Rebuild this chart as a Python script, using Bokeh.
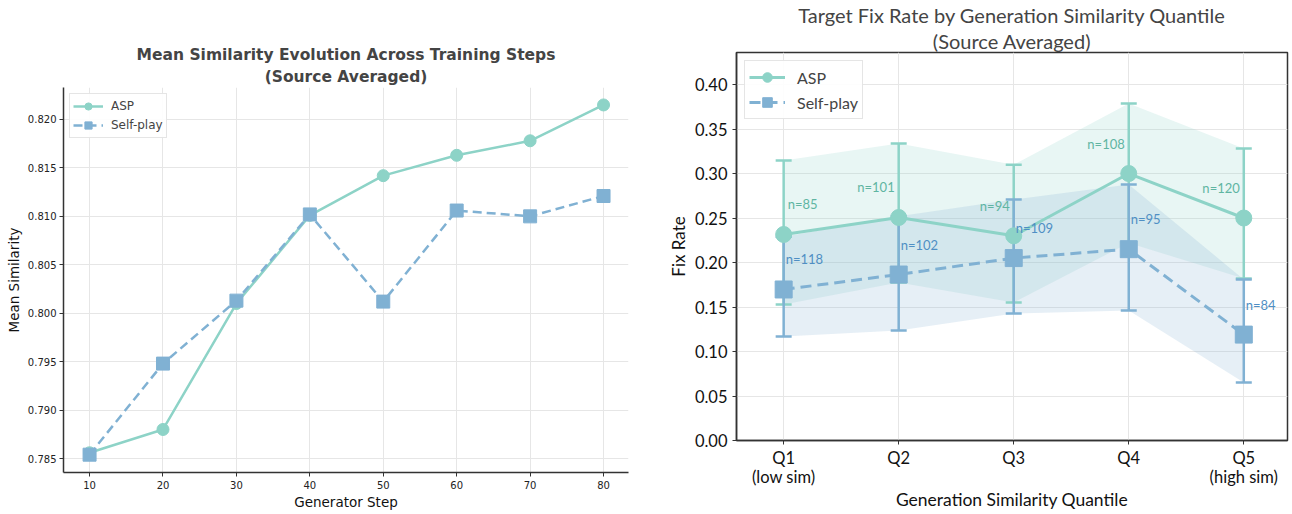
from bokeh.plotting import figure
from bokeh.models import Range1d, FixedTicker, Title, NumeralTickFormatter, ColumnDataSource, LinearAxis
from bokeh.layouts import row, column
from bokeh.core.properties import value
from bokeh.embed import file_html
from bokeh.resources import INLINE

# ---------------- data: left chart ----------------
steps = [10, 20, 30, 40, 50, 60, 70, 80]
asp_sim = [0.7856, 0.7880, 0.8010, 0.8101, 0.8142, 0.8163, 0.8178, 0.8215]
sp_sim = [0.7854, 0.7948, 0.8013, 0.8102, 0.8012, 0.8106, 0.8100, 0.8121]
sim_ticks = [0.785, 0.790, 0.795, 0.800, 0.805, 0.810, 0.815, 0.820]

# ---------------- data: right chart ----------------
quant = [0, 1, 2, 3, 4]
q_labels = ["Q1", "Q2", "Q3", "Q4", "Q5"]
q_sub_labels = ["(low sim)", "", "", "", "(high sim)"]
asp_rate = [0.2315, 0.2506, 0.2300, 0.3000, 0.2500]
asp_lo = [0.1528, 0.1775, 0.1551, 0.2220, 0.1820]
asp_hi = [0.3146, 0.3337, 0.3100, 0.3787, 0.3280]
asp_n = [85, 101, 94, 108, 120]
sp_rate = [0.1697, 0.1865, 0.2050, 0.2150, 0.1190]
sp_lo = [0.1169, 0.1236, 0.1427, 0.1460, 0.0652]
sp_hi = [0.2290, 0.2520, 0.2708, 0.2876, 0.1810]
sp_n = [118, 102, 109, 95, 84]
rate_ticks = [0.00, 0.05, 0.10, 0.15, 0.20, 0.25, 0.30, 0.35, 0.40]

ASP_C = "#8dd3c7"
SP_C = "#80b1d3"
ASP_T = "#5fb5a2"
SP_T = "#4f8fc4"
AXC = "#333333"

# ================= left figure =================
F1 = "DejaVu Sans"
p1 = figure(width=640, height=512, output_backend="svg", toolbar_location=None,
            x_range=Range1d(6.45, 83.4), y_range=Range1d(0.78356, 0.8233),
            min_border_left=63, min_border_right=12, min_border_top=87, min_border_bottom=38)
p1.title.text = "Mean Similarity Evolution Across Training Steps"
p1.title.align = "center"
p1.title.text_font = F1
p1.title.text_font_size = "15.5px"
p1.title.text_font_style = "bold"
p1.title.standoff = 0
p1.add_layout(Title(text="(Source Averaged)", align="center",
                    text_font=F1, text_font_size="15.5px", text_font_style="bold", standoff=4), "above")
p1.outline_line_color = None

p1.xaxis.ticker = FixedTicker(ticks=steps)
p1.yaxis.ticker = FixedTicker(ticks=sim_ticks)
p1.yaxis.formatter = NumeralTickFormatter(format="0.000")
for ax in (p1.xaxis[0], p1.yaxis[0]):
    ax.axis_line_color = AXC
    ax.axis_line_width = 1.5
    ax.major_tick_line_color = AXC
    ax.major_tick_in = 0
    ax.major_tick_out = 4
    ax.minor_tick_line_color = None
    ax.major_label_text_font = F1
    ax.major_label_text_font_size = "10px"
    ax.major_label_text_color = "#222222"
    ax.major_label_standoff = 4
    ax.axis_label_text_font = F1
    ax.axis_label_text_font_size = "13.5px"
    ax.axis_label_text_font_style = "normal"
    ax.axis_label_text_color = "#111111"
p1.yaxis.major_label_standoff = 3
p1.xaxis.axis_label = "Generator Step"
p1.yaxis.axis_label = "Mean Similarity"
p1.xaxis.axis_label_standoff = 2
p1.yaxis.axis_label_standoff = 3
p1.grid.grid_line_color = "#e6e6e6"
p1.grid.grid_line_width = 1

p1.line(steps, asp_sim, color=ASP_C, line_width=2.5, legend_label="ASP")
p1.scatter(steps, asp_sim, marker="circle", size=12, color=ASP_C, legend_label="ASP")
p1.line(steps, sp_sim, color=SP_C, line_width=2.5, line_dash="9 5", legend_label="Self-play")
p1.scatter(steps, sp_sim, marker="square", size=13, color=SP_C, legend_label="Self-play")

lg = p1.legend[0]
lg.location = "top_left"
lg.margin = 6
lg.padding = 3
lg.spacing = 1
lg.border_line_color = "#cccccc"
lg.border_line_width = 1
lg.background_fill_alpha = 0.9
lg.label_text_font = F1
lg.label_text_font_size = "12px"
lg.glyph_width = 30
lg.glyph_height = 18
lg.label_height = 18
lg.label_standoff = 8

# ================= right figure =================
F2 = "Lato"
p2 = figure(width=650, height=512, output_backend="svg", toolbar_location=None,
            x_range=Range1d(-0.41, 4.38), y_range=Range1d(0.0, 0.436),
            min_border_left=96, min_border_right=3, min_border_top=52, min_border_bottom=72)
p2.title.text = "Target Fix Rate by Generation Similarity Quantile"
p2.title.align = "center"
p2.title.text_font = F2
p2.title.text_font_size = "20px"
p2.title.text_font_style = "normal"
p2.title.standoff = 0
p2.add_layout(Title(text="(Source Averaged)", align="center",
                    text_font=F2, text_font_size="20px", text_font_style="normal", standoff=0), "above")
p2.outline_line_color = AXC
p2.outline_line_width = 1.5

p2.xaxis.ticker = FixedTicker(ticks=quant)
p2.xaxis.major_label_overrides = {q: lab for q, lab in zip(quant, q_labels)}
p2.yaxis.ticker = FixedTicker(ticks=rate_ticks)
p2.yaxis.formatter = NumeralTickFormatter(format="0.00")
sub_axis = LinearAxis(ticker=FixedTicker(ticks=quant),
                      major_label_overrides={q: lab for q, lab in zip(quant, q_sub_labels)})
p2.add_layout(sub_axis, "below")
for ax in (p2.xaxis[0], p2.yaxis[0], sub_axis):
    ax.axis_line_color = AXC
    ax.axis_line_width = 1.5
    ax.major_tick_line_color = AXC
    ax.major_tick_in = 0
    ax.major_tick_out = 4
    ax.minor_tick_line_color = None
    ax.major_label_text_font = F2
    ax.major_label_text_font_size = "16.5px"
    ax.major_label_text_color = "#111111"
    ax.major_label_standoff = 3
    ax.axis_label_text_font = F2
    ax.axis_label_text_font_style = "normal"
    ax.axis_label_text_color = "#111111"
p2.yaxis.major_label_standoff = 5
sub_axis.axis_line_color = None
sub_axis.major_tick_line_color = None
sub_axis.major_tick_out = 0
sub_axis.major_label_standoff = -4
sub_axis.axis_label = "Generation Similarity Quantile"
sub_axis.axis_label_text_font_size = "17.5px"
sub_axis.axis_label_standoff = -1
p2.yaxis.axis_label_text_font_size = "17px"
p2.yaxis.axis_label = "Fix Rate"
p2.yaxis.axis_label_standoff = 3
p2.grid.grid_line_color = "#e6e6e6"
p2.grid.grid_line_width = 1

# confidence bands
p2.varea(x=quant, y1=asp_lo, y2=asp_hi, fill_color=ASP_C, fill_alpha=0.2)
p2.varea(x=quant, y1=sp_lo, y2=sp_hi, fill_color=SP_C, fill_alpha=0.2)

# error bars
p2.segment(x0=quant, y0=asp_lo, x1=quant, y1=asp_hi, line_color=ASP_C, line_width=2.5)
p2.scatter(x=quant + quant, y=asp_lo + asp_hi, marker="dash", size=16, line_color=ASP_C, line_width=2.5)
p2.segment(x0=quant, y0=sp_lo, x1=quant, y1=sp_hi, line_color=SP_C, line_width=2.5)
p2.scatter(x=quant + quant, y=sp_lo + sp_hi, marker="dash", size=16, line_color=SP_C, line_width=2.5)

# lines + markers
p2.line(quant, asp_rate, color=ASP_C, line_width=3, legend_label="ASP")
p2.scatter(quant, asp_rate, marker="circle", size=16, color=ASP_C, legend_label="ASP")
p2.line(quant, sp_rate, color=SP_C, line_width=3, line_dash="11 6", legend_label="Self-play")
p2.scatter(quant, sp_rate, marker="square", size=17, color=SP_C, legend_label="Self-play")

# n labels
asp_src = ColumnDataSource(dict(x=quant, y=asp_rate, t=["n=%d" % n for n in asp_n],
                                al=["left", "right", "right", "right", "right"],
                                dx=[4, -4, -4, -4, -4]))
p2.text(x="x", y="y", text="t", source=asp_src, text_align="al", x_offset="dx", y_offset=-30,
        text_baseline="middle", text_font=value(F2), text_font_size="13px", text_color=ASP_T)
sp_src = ColumnDataSource(dict(x=quant, y=sp_rate, t=["n=%d" % n for n in sp_n]))
p2.text(x="x", y="y", text="t", source=sp_src, text_align="left", x_offset=2, y_offset=-30,
        text_baseline="middle", text_font=value(F2), text_font_size="13px", text_color=SP_T)

lg2 = p2.legend[0]
lg2.location = "top_left"
lg2.margin = 8
lg2.padding = 4
lg2.spacing = 1
lg2.border_line_color = "#cccccc"
lg2.border_line_width = 1
lg2.background_fill_alpha = 0.9
lg2.label_text_font = F2
lg2.label_text_font_size = "16px"
lg2.glyph_width = 36
lg2.glyph_height = 24
lg2.label_height = 24
lg2.label_standoff = 12

layout = row(column(p1), column(p2))
open("out.html", "w").write(file_html(layout, INLINE))
